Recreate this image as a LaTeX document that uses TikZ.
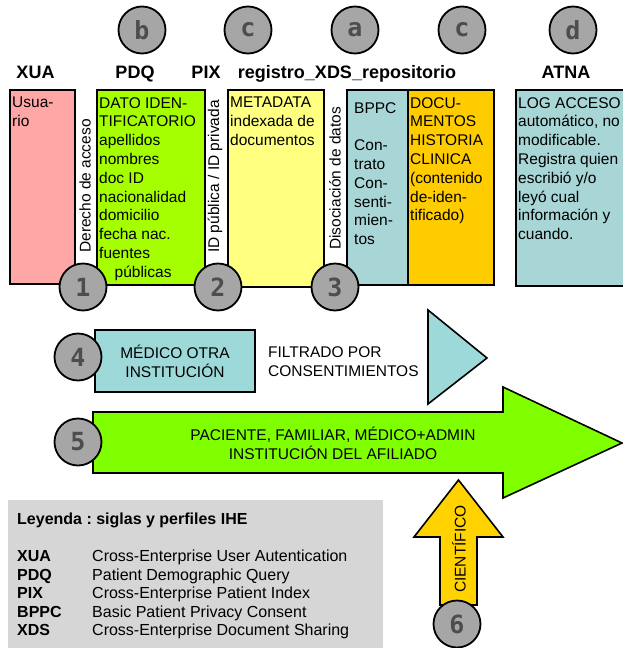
\documentclass[tikz,border=0pt]{standalone}
\usepackage{fontspec}
\setmainfont{Liberation Sans}
\newfontfamily\badgefont{DejaVu Sans Mono}[UprightFont={* Bold}]
\usetikzlibrary{positioning,calc}
\frenchspacing

\definecolor{rosa}{HTML}{FFA6A6}
\definecolor{lima}{HTML}{A6FF00}
\definecolor{amarillo}{HTML}{FFFF80}
\definecolor{turquesa}{HTML}{A8D5D5}
\definecolor{celeste}{HTML}{9ED9D9}
\definecolor{naranja}{HTML}{FFCC00}
\definecolor{verde}{HTML}{80FF00}
\definecolor{oro}{HTML}{FFD200}
\definecolor{gris}{HTML}{D6D6D6}
\definecolor{badgegris}{HTML}{A6A6A6}
\definecolor{badgetexto}{HTML}{4D4D4D}

\begin{document}
\begin{tikzpicture}[
    x=1pt, y=-1pt,
    every node/.style={font=\fontsize{15.5}{18.8}\selectfont},
    badge/.style={circle, draw, line width=1.8pt, fill=badgegris, minimum size=47, inner sep=0pt, text=badgetexto, font=\badgefont\fontsize{25}{25}\selectfont},
    profile/.style={anchor=base, font=\bfseries\fontsize{18}{18}\selectfont},
    colbox/.style={rectangle, draw, line width=1.6pt, anchor=north west, inner sep=0pt},
    coltext/.style={anchor=north west, align=left, inner sep=0pt},
    vlabel/.style={rotate=90, anchor=west, inner sep=0pt},
    blockshape/.style={draw, line width=1.6pt, line join=miter}
]
\useasboundingbox (0,0) rectangle (623,648);

% Profiles (top row)
\foreach \letra/\x in {b/142, c/248, a/355, c/462, d/573}
    \node[badge] (top-\x) at (\x,30) {\letra};
\node[profile] (xua) at (35.5,78) {XUA};
\node[profile] (pdq) at (135,78) {PDQ};
\node[profile] (pix) at (206,78) {PIX};
\node[profile] (xds) at (347,78) {registro\_XDS\_repositorio};
\node[profile] (atna) at (566,78) {ATNA};

% Columns
\node[colbox, fill=rosa, minimum width=65, minimum height=194] (usuario) at (9,89) {};
\node[colbox, fill=lima, minimum width=108, minimum height=195] (dato) at (96,89) {};
\node[colbox, fill=amarillo, minimum width=96, minimum height=197] (meta) at (227,89) {};
\node[colbox, fill=turquesa, minimum width=61, minimum height=195] (bppc) at (346,89) {};
\node[colbox, fill=naranja, minimum width=86, minimum height=195] (docs) at (407,89) {};
\node[colbox, fill=turquesa, minimum width=120, minimum height=196] (log) at (515,89) {};

\node[coltext] (usuario-t) at (12,97) {Usua-\\rio};
\node[coltext] (dato-t) at (99,97) {DATO IDEN-\\TIFICATORIO\\apellidos\\nombres\\doc ID\\nacionalidad\\domicilio\\fecha nac.\\fuentes\\\hspace*{1em}públicas};
\node[coltext] (meta-t) at (230,97) {METADATA\\indexada de\\documentos};
\node[coltext] (bppc-t) at (354,102) {BPPC\\[18.8pt]Con-\\trato\\Con-\\senti-\\mien-\\tos};
\node[coltext] (docs-t) at (410,97) {DOCU-\\MENTOS\\HISTORIA\\CLINICA\\(contenido\\de-iden-\\tificado)};
\node[coltext] (log-t) at (518,97) {LOG ACCESO\\automático, no\\modificable.\\Registra quien\\escribió y/o\\leyó cual\\información y\\cuando.};

% Vertical labels between columns
\node[vlabel] (acceso) at (85,253) {Derecho de acceso};
\node[vlabel] (idpub) at (215,253) {ID pública / ID privada};
\node[vlabel] (disoc) at (335,250) {Disociación de datos};

\node[badge] (n1) at (83,287) {1};
\node[badge] (n2) at (218,287) {2};
\node[badge] (n3) at (335,287) {3};

% Access 4: other institution
\node[draw, line width=1.6pt, fill=celeste, minimum width=160, minimum height=62, align=center] (medico) at (175,361) {MÉDICO OTRA\\INSTITUCIÓN};
\node[anchor=west, align=left, inner sep=0pt] (filtro) at (268,362) {FILTRADO POR\\CONSENTIMIENTOS};
\draw[blockshape, fill=celeste] (428,310) -- (487,358) -- (428,404) -- cycle;
\node[badge] (n4) at (78,357) {4};

% Access 5: affiliated institution
\draw[blockshape, fill=verde] (93,412) -- (503,412) -- (503,387) -- (622,443) -- (503,498) -- (503,473) -- (93,473) -- cycle;
\node[align=center] (afiliado) at (333,443) {PACIENTE, FAMILIAR, MÉDICO+ADMIN\\INSTITUCIÓN DEL AFILIADO};
\node[badge] (n5) at (78,442) {5};

% Access 6: research
\draw[blockshape, fill=oro] (440,605) -- (440,537) -- (414,537) -- (458.5,480) -- (503,537) -- (477,537) -- (477,605) -- cycle;
\node[rotate=90, inner sep=0pt] (cientifico) at (459,549) {CIENTÍFICO};
\node[badge] (n6) at (457,624) {6};

% Legend
\node[fill=gris, anchor=north west, minimum width=375, minimum height=160, inner sep=0pt] (leyenda) at (8,500) {};
\node[anchor=base west, inner sep=0pt, font=\bfseries\fontsize{16}{18}\selectfont] (leyenda-t) at (17,524) {Leyenda : siglas y perfiles IHE};
\foreach \sigla/\desc [count=\i] in {XUA/Cross-Enterprise User Autentication, PDQ/Patient Demographic Query, PIX/Cross-Enterprise Patient Index, BPPC/Basic Patient Privacy Consent, XDS/Cross-Enterprise Document Sharing} {
    \node[anchor=base west, inner sep=0pt, font=\bfseries\fontsize{16}{18}\selectfont] (sigla-\i) at (17,543+18.5*\i) {\sigla};
    \node[anchor=base west, inner sep=0pt, font=\fontsize{16}{18}\selectfont] (desc-\i) at (92,543+18.5*\i) {\desc};
}

\end{tikzpicture}
\end{document}
